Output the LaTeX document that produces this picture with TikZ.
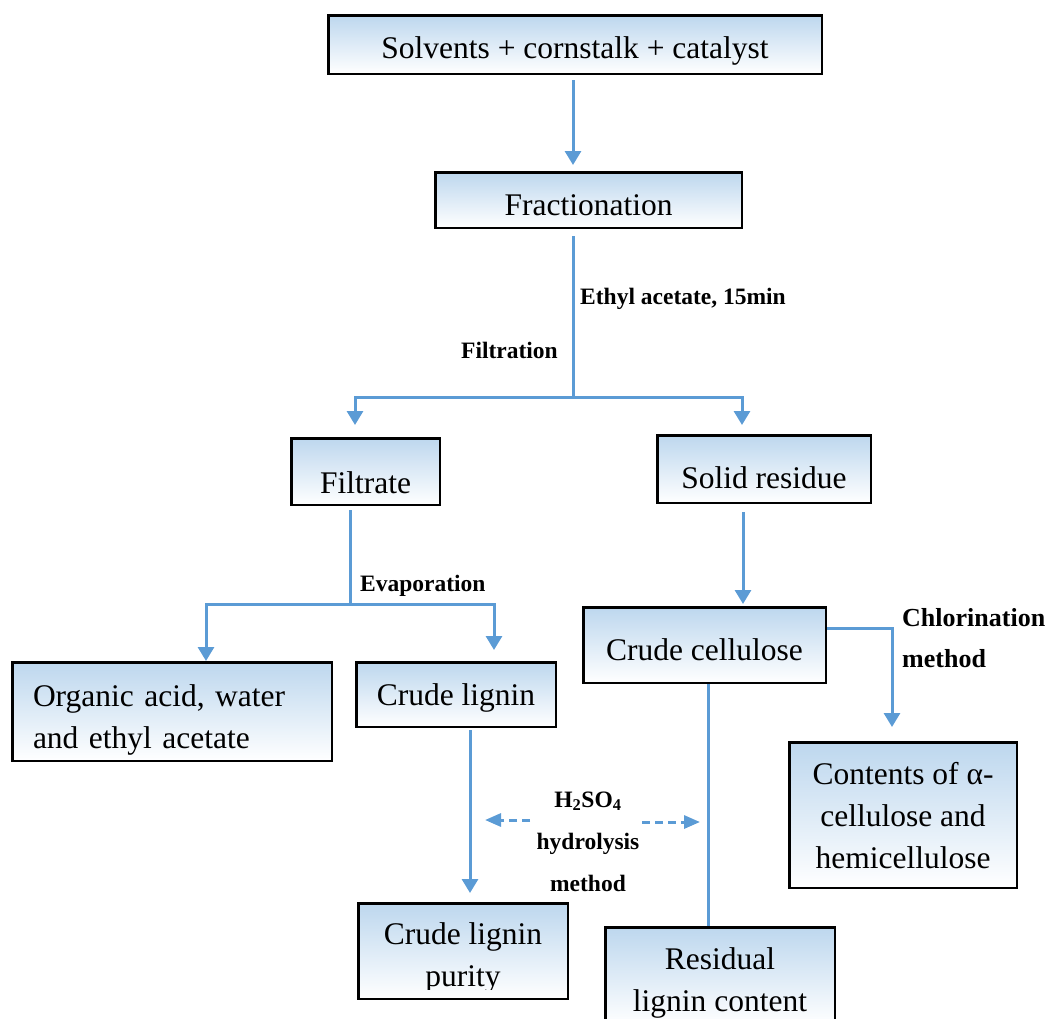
\documentclass[tikz,border=0pt]{standalone}
\usepackage{fontspec}
\setmainfont{Liberation Serif}
\usetikzlibrary{arrows.meta}

\definecolor{boxblue}{HTML}{BDD7EE}
\definecolor{linkblue}{HTML}{5B9BD5}
\newcommand{\boxfont}{\fontsize{31.5}{42}\selectfont}
\newcommand{\labfont}{\fontsize{23.5}{42}\selectfont\bfseries}

\tikzset{
  box/.style={draw=black, line width=2.5pt, top color=boxblue, bottom color=white,
    inner sep=0pt, font=\boxfont, align=center, text depth=0pt},
  onebox/.style={box, text height=31pt},
  conn/.style={draw=linkblue, line width=3pt},
  arr/.style={conn, -{Triangle[length=14pt,width=16pt]}},
  darr/.style={conn, dash pattern=on 8pt off 5pt, -{Triangle[length=16pt,width=13pt]}},
  lab/.style={font=\labfont, inner sep=0pt},
}

\begin{document}
\begin{tikzpicture}[x=1pt, y=-1pt]

  \clip (0,0) rectangle (1049,1018);

  % boxes
  \node[onebox, minimum width=493.5, minimum height=58.5, text height=27pt] (solv) at (575,44.5)
    {Solvents + cornstalk + catalyst};
  \node[onebox, minimum width=306.5, minimum height=55.5] (frac) at (588.5,200) {Fractionation};
  \node[onebox, minimum width=148.5, minimum height=66.5, text height=43pt] (filt) at (365.5,471.5) {Filtrate};
  \node[onebox, minimum width=213.5, minimum height=67.5, text height=38pt] (solid) at (764,469) {Solid residue};
  \node[onebox, minimum width=242.5, minimum height=75.5] (cell) at (704.5,645) {Crude cellulose};
  \node[box, minimum width=319.5, minimum height=98.5, text width=278, align=left,
    text height=32pt, text depth=43pt] (org) at (172,711.5) {Organic acid, water\\and ethyl acetate};
  \node[onebox, minimum width=199.5, minimum height=64.5, text height=22pt] (lig) at (456,694.5) {Crude lignin};
  \node[box, minimum width=227.5, minimum height=145.5, text height=106pt] (cont) at (903,815)
    {Contents of α-\\cellulose and\\hemicellulose};
  \node[box, minimum width=209.5, minimum height=95.5] (pur) at (463,951) {};
  \begin{scope}
    \clip (pur.north west) rectangle ([yshift=11pt]pur.south east);
    \node[font=\boxfont, align=center, inner sep=0pt, text height=70pt, text depth=0pt] (purtxt)
      at (pur.center) {\fontsize{31.5}{38}\selectfont Crude lignin\\purity};
  \end{scope}
  \node[box, minimum width=229.5, minimum height=97.5, text height=70pt] (res) at (720,976)
    {\fontsize{31.5}{38}\selectfont Residual\\lignin content};

  % connectors
  \draw[arr, shorten <=5pt, shorten >=6pt] ([xshift=-2pt]solv.south) -- ([xshift=-2pt]solv.south |- frac.north);

  \coordinate (fsplit) at (573,397);
  \draw[conn, shorten <=7pt] (frac.south -| fsplit) -- (fsplit);
  \draw[arr, shorten >=12pt] (fsplit) -| ([xshift=-10.5pt]filt.north);
  \draw[arr, shorten >=9pt] (fsplit) -| ([xshift=-22pt]solid.north);

  \coordinate (esplit) at (350,604);
  \draw[conn, shorten <=4pt] (filt.south -| esplit) -- (esplit);
  \draw[arr] (esplit) -| ([xshift=34pt]org.north);
  \draw[arr, shorten >=11pt] (esplit) -| ([xshift=38pt]lig.north);

  \draw[arr, shorten <=8pt, shorten >=2pt] ([xshift=-21pt]solid.south) -- ([xshift=-21pt]solid.south |- cell.north);
  \draw[arr, shorten >=14pt] ([yshift=17pt]cell.east) -| ([xshift=-11pt]cont.north);
  \draw[conn] ([xshift=3.5pt]cell.south) -- ([xshift=3.5pt]cell.south |- res.north);
  \draw[arr, shorten <=2pt, shorten >=9pt] ([xshift=14pt]lig.south) -- ([xshift=14pt]lig.south |- pur.north);

  % labels
  \node[lab, anchor=base west] (ethyl) at (580,304) {Ethyl acetate, 15min};
  \node[lab, anchor=base west] (filtr) at (461,358) {Filtration};
  \node[lab, anchor=base west] (evap) at (360,591) {Evaporation};
  \node[lab, anchor=base west, font=\fontsize{26}{42}\selectfont\bfseries] (chlor) at (902,626) {Chlorination};
  \node[lab, anchor=base west, font=\fontsize{26}{42}\selectfont\bfseries] (chlmeth) at (902,667) {method};
  \node[lab, align=center, text height=98pt, text depth=0pt] (hydro) at (588,842)
    {H\textsubscript{2}SO\textsubscript{4}\\hydrolysis\\method};

  \coordinate (hleft) at (485,820);
  \coordinate (hright) at (700,822);
  \draw[darr] (530,820) -- (hleft);
  \draw[darr] (642,822) -- (hright);

\end{tikzpicture}
\end{document}
